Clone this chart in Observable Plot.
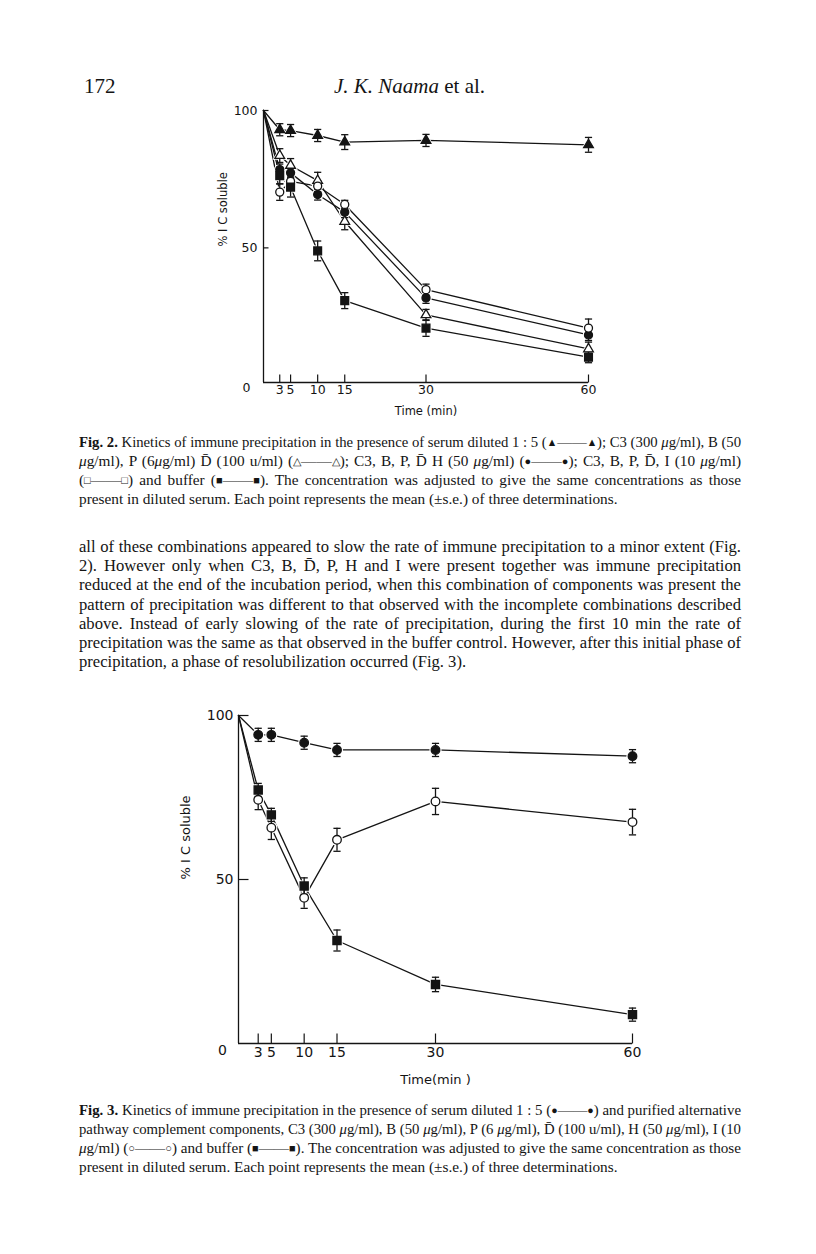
<!DOCTYPE html>
<html><head><meta charset="utf-8">
<script src="https://cdn.jsdelivr.net/npm/d3@7"></script>
<script src="https://cdn.jsdelivr.net/npm/@observablehq/plot@0.6"></script>
<style>
html,body{margin:0;padding:0;background:#fff;}
body{width:816px;height:1254px;position:relative;overflow:hidden;font-family:"Liberation Serif","Times New Roman",serif;color:#141414;}
.abs{position:absolute;}
.para{position:absolute;left:79px;width:662px;}
.ln{display:block;white-space:nowrap;height:19px;line-height:19px;}
.ln span.in{display:inline-block;white-space:nowrap;transform-origin:0 50%;}
.cap{font-size:15.3px;}
.body{font-size:16.6px;}
.body .ln{height:19.2px;line-height:19.2px;}
.sym{font-size:11px;vertical-align:1px;}
</style></head>
<body>
<div class="abs" style="left:84px;top:74px;font-size:21px;">172</div>
<div class="abs" style="left:334px;top:74px;font-size:21px;"><i>J. K. Naama</i> et al.</div>

<div id="fig2" class="abs" style="left:0;top:95px;"></div>

<div class="para cap" style="top:432px;">
<div class="ln"><span class="in"><b>Fig. 2.</b> Kinetics of immune precipitation in the presence of serum diluted 1 : 5 (<span class="sym">▲</span>——<span class="sym">▲</span>); C3 (300 <i>μ</i>g/ml), B (50</span></div>
<div class="ln"><span class="in"><i>μ</i>g/ml), P (6<i>μ</i>g/ml) D̄ (100 u/ml) (<span class="sym">△</span>——<span class="sym">△</span>); C3, B, P, D̄ H (50 <i>μ</i>g/ml) (<span class="sym">●</span>——<span class="sym">●</span>); C3, B, P, D̄, I (10 <i>μ</i>g/ml)</span></div>
<div class="ln"><span class="in">(<span class="sym">□</span>——<span class="sym">□</span>) and buffer (<span class="sym">■</span>——<span class="sym">■</span>). The concentration was adjusted to give the same concentrations as those</span></div>
<div class="ln last"><span class="in">present in diluted serum. Each point represents the mean (±s.e.) of three determinations.</span></div>
</div>

<div class="para body" style="top:537px;">
<div class="ln"><span class="in">all of these combinations appeared to slow the rate of immune precipitation to a minor extent (Fig.</span></div>
<div class="ln"><span class="in">2). However only when C3, B, D̄, P, H and I were present together was immune precipitation</span></div>
<div class="ln"><span class="in">reduced at the end of the incubation period, when this combination of components was present the</span></div>
<div class="ln"><span class="in">pattern of precipitation was different to that observed with the incomplete combinations described</span></div>
<div class="ln"><span class="in">above. Instead of early slowing of the rate of precipitation, during the first 10 min the rate of</span></div>
<div class="ln"><span class="in">precipitation was the same as that observed in the buffer control. However, after this initial phase of</span></div>
<div class="ln last"><span class="in">precipitation, a phase of resolubilization occurred (Fig. 3).</span></div>
</div>

<div id="fig3" class="abs" style="left:0;top:700px;"></div>

<div class="para cap" style="top:1100px;">
<div class="ln"><span class="in"><b>Fig. 3.</b> Kinetics of immune precipitation in the presence of serum diluted 1 : 5 (<span class="sym">●</span>——<span class="sym">●</span>) and purified alternative</span></div>
<div class="ln"><span class="in">pathway complement components, C3 (300 <i>μ</i>g/ml), B (50 <i>μ</i>g/ml), P (6 <i>μ</i>g/ml), D̄ (100 u/ml), H (50 <i>μ</i>g/ml), I (10</span></div>
<div class="ln"><span class="in"><i>μ</i>g/ml) (<span class="sym">○</span>——<span class="sym">○</span>) and buffer (<span class="sym">■</span>——<span class="sym">■</span>). The concentration was adjusted to give the same concentration as those</span></div>
<div class="ln last"><span class="in">present in diluted serum. Each point represents the mean (±s.e.) of three determinations.</span></div>
</div>

<script>
// ---------------- data ----------------
const time = [0, 3, 5, 10, 15, 30, 60];
const xTickValues = [3, 5, 10, 15, 30, 60];
const yTickValues = [50, 100];

// Fig. 2
const f2Serum      = [100, 93.0, 92.7, 90.9, 88.5, 89.1, 87.5];
const f2SerumErr   = [0, 2.2, 2.2, 2.2, 2.7, 2.2, 2.7];
const f2CBPD       = [100, 83.6, 80.0, 74.5, 59.6, 25.6, 13.2];
const f2CBPDErr    = [0, 2.5, 2.5, 3.0, 3.0, 2.0, 2.5];
const f2H          = [100, 78.5, 77.3, 69.4, 63.0, 31.8, 18.3];
const f2HErr       = [0, 2.0, 2.0, 2.0, 2.0, 2.0, 2.0];
const f2I          = [100, 70.3, 74.2, 72.5, 65.8, 34.8, 20.8];
const f2IErr       = [0, 3.0, 2.0, 2.0, 1.5, 2.0, 3.3];
const f2Buffer     = [100, 76.3, 72.1, 48.9, 30.8, 20.8, 10.2];
const f2BufferErr  = [0, 3.0, 3.6, 3.6, 2.9, 3.0, 2.0];

// Fig. 3
const f3Serum      = [100, 94.1, 94.1, 91.7, 89.5, 89.5, 87.6];
const f3SerumErr   = [0, 2.0, 2.0, 2.0, 2.0, 2.0, 2.0];
const f3Comp       = [100, 74.3, 65.8, 44.4, 62.1, 73.8, 67.5];
const f3CompErr    = [0, 3.0, 3.6, 3.2, 3.5, 4.0, 3.9];
const f3Buffer     = [100, 77.3, 69.7, 48.0, 31.4, 18.0, 8.8];
const f3BufferErr  = [0, 2.0, 2.0, 2.5, 3.2, 2.2, 2.0];

const yLabel = "% I C soluble";
const f2XLabel = "Time (min)";
const f3XLabel = "Time(min )";

// ---------------- drawing ----------------
const ink = "#141414";
const hcap = {draw(ctx, size){const r = Math.sqrt(size/Math.PI); ctx.moveTo(-r,0); ctx.lineTo(r,0);}};
const vtick = {draw(ctx, size){const r = Math.sqrt(size/Math.PI); ctx.moveTo(0,0); ctx.lineTo(0,-r);}};
const htick = {draw(ctx, size){const r = Math.sqrt(size/Math.PI); ctx.moveTo(0,0); ctx.lineTo(r,0);}};

function chart(o){
  const rows = [], pts = [];
  o.series.forEach(s => s.values.forEach((v,i) => {
    const d = {series:s.name, t:time[i], v, e:s.err[i]};
    rows.push(d); if (time[i] > 0) pts.push(d);
  }));
  const marks = [
    Plot.ruleX([0], {stroke:ink, strokeWidth:1.3}),
    Plot.ruleY([o.ydom[0]], {stroke:ink, strokeWidth:1.3}),
    Plot.dot(xTickValues, {x:d=>d, frameAnchor:"bottom", symbol:vtick, r:o.xTick, stroke:ink, fill:"none", strokeWidth:1.2}),
    Plot.dot(yTickValues, {y:d=>d, frameAnchor:"left", symbol:htick, r:o.yTick, stroke:ink, fill:"none", strokeWidth:1.2}),
    Plot.axisY({ticks:yTickValues, tickSize:0, tickPadding:o.yPad, label:null, fontSize:o.tickFont}),
    Plot.axisX({ticks:xTickValues, tickSize:0, tickPadding:o.xPad, label:null, fontSize:o.tickFont}),
    Plot.text([0], {x:d=>d, frameAnchor:"bottom", dx:o.zeroDx, dy:o.xPad + o.tickFont*0.55, text:d=>String(d), fontSize:o.tickFont}),
    Plot.text([o.xLabel], {frameAnchor:"bottom", dy:o.xLabelDy, text:d=>d, fontSize:o.labelFont}),
    Plot.text([yLabel], {frameAnchor:"left", dx:o.yLabelDx, rotate:-90, text:d=>d, fontSize:o.labelFont}),
    Plot.line(rows, {x:"t", y:"v", z:"series", stroke:ink, strokeWidth:1.3})
  ];
  o.series.forEach(s => marks.push(Plot.dot(pts.filter(d=>d.series===s.name), {x:"t", y:"v", symbol:s.symbol, r:s.r+1.8, fill:"white", stroke:"none"})));
  marks.push(Plot.ruleX(pts, {x:"t", y1:d=>d.v-d.e, y2:d=>d.v+d.e, stroke:ink, strokeWidth:1.3}));
  marks.push(Plot.dot(pts, {x:"t", y:d=>d.v+d.e, symbol:hcap, r:3.6, stroke:ink, fill:"none", strokeWidth:1.3}));
  marks.push(Plot.dot(pts, {x:"t", y:d=>d.v-d.e, symbol:hcap, r:3.6, stroke:ink, fill:"none", strokeWidth:1.3}));
  o.series.forEach(s => marks.push(Plot.dot(pts.filter(d=>d.series===s.name), {x:"t", y:"v", symbol:s.symbol, r:s.r, fill:s.filled?ink:"white", stroke:ink, strokeWidth:1.3})));
  return Plot.plot({
    width:816, height:o.height,
    marginTop:o.mt, marginBottom:o.mb, marginLeft:o.ml, marginRight:o.mr,
    x:{domain:[0,60], axis:null},
    y:{domain:o.ydom, axis:null},
    style:{fontFamily:"'DejaVu Sans', sans-serif", color:ink, background:"transparent", overflow:"visible"},
    marks
  });
}

document.getElementById("fig2").appendChild(chart({
  height:332, mt:15, mb:45, ml:263, mr:228, ydom:[1,100],
  xTick:8, yTick:5, xPad:3, yPad:6, tickFont:12.5, labelFont:11.5, xLabelDy:32, yLabelDx:-40, zeroDx:-17,
  xLabel:f2XLabel,
  series:[
    {name:"serum", values:f2Serum, err:f2SerumErr, symbol:"triangle", r:3.6, filled:true},
    {name:"C3 B P D", values:f2CBPD, err:f2CBPDErr, symbol:"triangle", r:3.6, filled:false},
    {name:"C3 B P D H", values:f2H, err:f2HErr, symbol:"circle", r:4, filled:true},
    {name:"C3 B P D I", values:f2I, err:f2IErr, symbol:"circle", r:4, filled:false},
    {name:"buffer", values:f2Buffer, err:f2BufferErr, symbol:"square", r:4.4, filled:true}
  ]
}));

document.getElementById("fig3").appendChild(chart({
  height:393, mt:15, mb:50, ml:238, mr:184, ydom:[0,100],
  xTick:10, yTick:10, xPad:4, yPad:5, tickFont:14, labelFont:13, xLabelDy:40, yLabelDx:-53, zeroDx:-16,
  xLabel:f3XLabel,
  series:[
    {name:"serum", values:f3Serum, err:f3SerumErr, symbol:"circle", r:4.3, filled:true},
    {name:"components", values:f3Comp, err:f3CompErr, symbol:"circle", r:4.3, filled:false},
    {name:"buffer", values:f3Buffer, err:f3BufferErr, symbol:"square", r:4.6, filled:true}
  ]
}));

// justify full lines to the measure; last lines keep natural spacing
const measure = 662;
document.querySelectorAll(".ln").forEach(ln => {
  const inner = ln.querySelector(".in");
  const w = inner.getBoundingClientRect().width;
  if (w > measure) { inner.style.transform = `scaleX(${measure / w})`; return; }
  if (ln.classList.contains("last")) return;
  const spaces = (inner.textContent.match(/ /g) || []).length;
  if (spaces) inner.style.wordSpacing = `${(measure - w) / spaces}px`;
});
</script>
</body></html>
